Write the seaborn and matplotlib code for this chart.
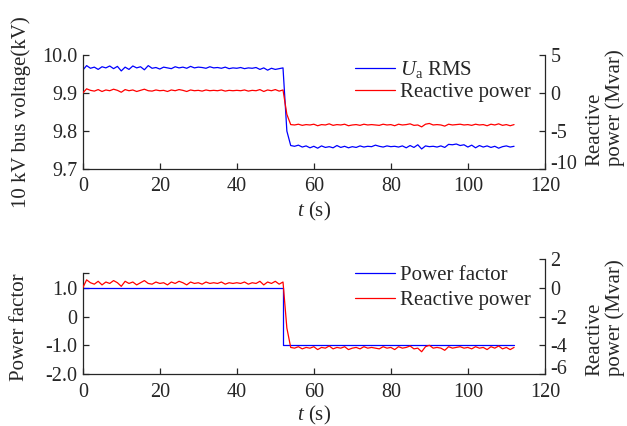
import numpy as np
import matplotlib
matplotlib.use("Agg")
import matplotlib.pyplot as plt
import seaborn as sns

# time base (s), one sample per second
t_s = np.arange(0, 113)

# 10 kV bus voltage, Ua RMS (kV)
ua_rms = [
    9.960, 9.972, 9.965, 9.968, 9.962, 9.969, 9.966, 9.971, 9.964, 9.970,
    9.958, 9.968, 9.962, 9.971, 9.966, 9.969, 9.961, 9.972, 9.965, 9.967,
    9.963, 9.968, 9.966, 9.964, 9.969, 9.966, 9.968, 9.965, 9.970, 9.966,
    9.968, 9.967, 9.965, 9.969, 9.966, 9.967, 9.965, 9.968, 9.964, 9.966,
    9.965, 9.967, 9.964, 9.966, 9.965, 9.967, 9.962, 9.966, 9.960, 9.965,
    9.962, 9.964, 9.966, 9.800, 9.762, 9.760, 9.763, 9.758, 9.761, 9.756,
    9.760, 9.755, 9.761, 9.757, 9.759, 9.756, 9.762, 9.757, 9.760, 9.756,
    9.759, 9.757, 9.761, 9.758, 9.760, 9.759, 9.763, 9.760, 9.758, 9.761,
    9.759, 9.760, 9.758, 9.761, 9.756, 9.762, 9.757, 9.764, 9.753, 9.761,
    9.759, 9.760, 9.758, 9.761, 9.757, 9.765, 9.764, 9.766, 9.762, 9.764,
    9.758, 9.763, 9.756, 9.762, 9.758, 9.761, 9.757, 9.760, 9.755, 9.759,
    9.761, 9.758, 9.760,
]

# reactive power (Mvar)
q_mvar = [
    0.00, 0.55, 0.35, 0.25, 0.45, 0.20, 0.40, 0.30, 0.50, 0.35,
    0.10, 0.45, 0.30, 0.40, 0.20, 0.35, 0.50, 0.30, 0.25, 0.40,
    0.30, 0.35, 0.20, 0.40, 0.30, 0.45, 0.35, 0.20, 0.40, 0.30,
    0.35, 0.25, 0.40, 0.30, 0.35, 0.30, 0.40, 0.25, 0.35, 0.30,
    0.35, 0.30, 0.40, 0.25, 0.35, 0.30, 0.45, 0.20, 0.40, 0.30,
    0.45, 0.25, 0.40, -2.80, -4.15, -4.20, -4.10, -4.25, -4.15, -4.20,
    -4.10, -4.30, -4.15, -4.20, -4.05, -4.25, -4.15, -4.20, -4.10, -4.30,
    -4.20, -4.15, -4.25, -4.10, -4.20, -4.15, -4.20, -4.25, -4.10, -4.20,
    -4.15, -4.30, -4.10, -4.20, -4.15, -4.05, -4.25, -4.20, -4.45, -4.10,
    -4.00, -4.20, -4.15, -4.20, -4.35, -4.10, -4.20, -4.15, -4.10, -4.20,
    -4.15, -4.25, -4.10, -4.20, -4.15, -4.30, -4.10, -4.20, -4.05, -4.25,
    -4.15, -4.30, -4.15,
]

# power factor (step at t = 52 s)
pf_t = [0, 52, 52, 112]
pf = [1.0, 1.0, -0.98, -0.98]

sns.set_style("ticks")
plt.rcParams["font.family"] = ["Liberation Serif", "DejaVu Serif"]
plt.rcParams["mathtext.fontset"] = "custom"
plt.rcParams["mathtext.rm"] = "Liberation Serif"
plt.rcParams["mathtext.it"] = "Liberation Serif:italic"
plt.rcParams["axes.unicode_minus"] = False
plt.rcParams["font.size"] = 14

BLUE = "#0000ff"
RED = "#ff0000"
LW = 0.9
TICK_FS = 14.5
LABEL_FS = 15


def style_axes(ax, ax2, xpad, xlabelpad):
    for a in (ax, ax2):
        a.spines["top"].set_visible(False)
        a.tick_params(direction="in", length=4, width=0.9, labelsize=TICK_FS, pad=4)
        for s in a.spines.values():
            s.set_linewidth(0.9)
    ax.tick_params(axis="x", pad=xpad)
    ax.spines["right"].set_visible(False)
    ax2.spines["left"].set_visible(False)
    ax2.spines["bottom"].set_visible(False)
    ax.set_xlim(0, 120)
    ax.set_xticks(range(0, 121, 20))
    ax.set_xlabel("$t$ (s)", fontsize=LABEL_FS, labelpad=xlabelpad)


fig = plt.figure(figsize=(6.27, 4.26), dpi=100)

# ---- top panel: voltage + reactive power
ax1 = fig.add_axes([0.132, 0.603, 0.737, 0.268])
ax1b = ax1.twinx()
sns.lineplot(x=t_s, y=ua_rms, ax=ax1, color=BLUE, lw=LW, estimator=None,
             sort=False, label="$U_\\mathrm{a}$ RMS", legend=False)
sns.lineplot(x=t_s, y=q_mvar, ax=ax1b, color=RED, lw=LW, estimator=None,
             sort=False, label="Reactive power", legend=False)
style_axes(ax1, ax1b, 5.5, 3)
ax1.set_ylim(9.7, 10.0)
ax1.set_yticks([9.7, 9.8, 9.9, 10.0])
ax1.set_yticklabels(["9.7", "9.8", "9.9", "10.0"])
ax1b.set_ylim(-10, 5)
ax1b.set_yticks([-10, -5, 0, 5])
ax1b.get_yticklabels()[0].set_va("baseline")
ax1.set_ylabel("10 kV bus voltage(kV)", fontsize=LABEL_FS)
ax1.yaxis.set_label_coords(-0.112, 0.5)
ax1b.set_ylabel("")
ax1b.text(1.087, 0.03, "Reactive\npower (Mvar)", transform=ax1b.transAxes,
          rotation=90, rotation_mode="anchor", ha="left", va="top",
          multialignment="left", fontsize=LABEL_FS, linespacing=1.05)
h1 = ax1.get_lines() + ax1b.get_lines()
ax1b.legend(h1, [l.get_label() for l in h1], loc="upper left",
            bbox_to_anchor=(0.589, 0.965), frameon=False, fontsize=LABEL_FS,
            handlelength=1.9, handletextpad=0.25, labelspacing=0.12,
            borderpad=0, borderaxespad=0)

# ---- bottom panel: power factor + reactive power
ax2 = fig.add_axes([0.132, 0.122, 0.737, 0.270])
ax2b = ax2.twinx()
sns.lineplot(x=pf_t, y=pf, ax=ax2, color=BLUE, lw=LW, estimator=None,
             sort=False, label="Power factor", legend=False)
sns.lineplot(x=t_s, y=q_mvar, ax=ax2b, color=RED, lw=LW, estimator=None,
             sort=False, label="Reactive power", legend=False)
style_axes(ax2, ax2b, 6.5, 1.5)
ax2.set_ylim(-2.0, 2.0)
ax2.spines["left"].set_bounds(-2.0, 1.5)
ax2.set_yticks([-2.0, -1.0, 0, 1.0, 1.5])
ax2.set_yticklabels(["-2.0", "-1.0", "0", "1.0", ""])
ax2b.set_ylim(-6, 2)
ax2b.set_yticks([-6, -4, -2, 0, 2])
ax2b.get_yticklabels()[0].set_va("baseline")
ax2.set_ylabel("Power factor", fontsize=LABEL_FS)
ax2.yaxis.set_label_coords(-0.117, 0.41)
ax2b.set_ylabel("")
ax2b.text(1.087, -0.02, "Reactive\npower (Mvar)", transform=ax2b.transAxes,
          rotation=90, rotation_mode="anchor", ha="left", va="top",
          multialignment="left", fontsize=LABEL_FS, linespacing=1.05)
h2 = ax2.get_lines() + ax2b.get_lines()
ax2b.legend(h2, [l.get_label() for l in h2], loc="upper left",
            bbox_to_anchor=(0.589, 0.945), frameon=False, fontsize=LABEL_FS,
            handlelength=1.9, handletextpad=0.25, labelspacing=0.27,
            borderpad=0, borderaxespad=0)

fig.savefig("out.png", dpi=100)
